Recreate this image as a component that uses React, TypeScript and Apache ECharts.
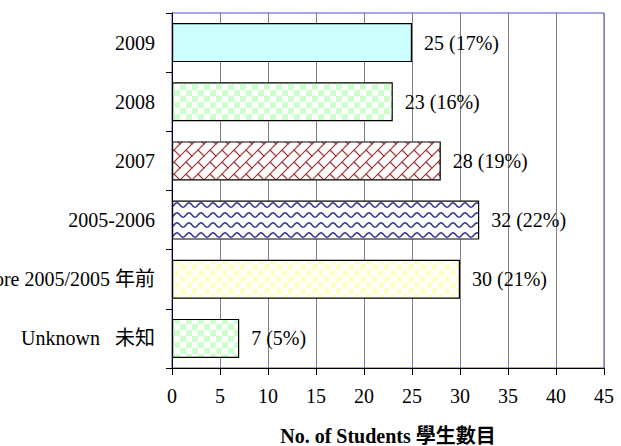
import React, { useEffect, useRef } from "react";
import * as echarts from "echarts";

const categories = ["Unknown   未知", "Before 2005/2005 年前", "2005-2006", "2007", "2008", "2009"];
const counts = [7, 30, 32, 28, 23, 25];
const percents = [5, 21, 22, 19, 16, 17];
const xTicks = { min: 0, max: 45, interval: 5 };
const axisTitle = "No. of Students 學生數目";

const FONT = "'Liberation Serif', 'Times New Roman', 'Noto Sans CJK TC', serif";

function makeTile(w: number, h: number, draw: (ctx: CanvasRenderingContext2D) => void) {
  const c = document.createElement("canvas");
  c.width = w;
  c.height = h;
  const ctx = c.getContext("2d") as CanvasRenderingContext2D;
  draw(ctx);
  return { image: c, repeat: "repeat", imageWidth: w, imageHeight: h } as any;
}

function checker(color: string) {
  return makeTile(12, 12, (ctx) => {
    ctx.fillStyle = "#ffffff";
    ctx.fillRect(0, 0, 12, 12);
    ctx.fillStyle = color;
    ctx.fillRect(0, 0, 6, 6);
    ctx.fillRect(6, 6, 6, 6);
  });
}

function wave() {
  return makeTile(12, 10, (ctx) => {
    ctx.fillStyle = "#ffffff";
    ctx.fillRect(0, 0, 12, 10);
    ctx.strokeStyle = "#333399";
    ctx.lineWidth = 1.5;
    ctx.beginPath();
    for (let i = -1; i <= 13; i++) {
      const y = 5 + 2.2 * Math.sin((2 * Math.PI * i) / 12);
      if (i === -1) ctx.moveTo(i, y);
      else ctx.lineTo(i, y);
    }
    ctx.stroke();
  });
}

function brick() {
  return makeTile(12, 12, (ctx) => {
    ctx.fillStyle = "#ffffff";
    ctx.fillRect(0, 0, 12, 12);
    ctx.strokeStyle = "#a03030";
    ctx.lineWidth = 1.2;
    ctx.beginPath();
    ctx.moveTo(-2, 14);
    ctx.lineTo(14, -2);
    ctx.moveTo(6, 6);
    ctx.lineTo(13, 13);
    ctx.moveTo(-1, -1);
    ctx.lineTo(0.5, 0.5);
    ctx.stroke();
  });
}

export default function App() {
  const ref = useRef<HTMLDivElement>(null);
  useEffect(() => {
    if (!ref.current) return;
    const chart = echarts.init(ref.current, null, { renderer: "svg" });
    const fills = [
      checker("#ccffcc"),
      checker("#ffffcc"),
      wave(),
      brick(),
      checker("#ccffcc"),
      "#ccffff",
    ];
    const data = counts.map((v, i) => ({
      value: v,
      itemStyle: { color: fills[i] },
    }));
    chart.setOption({
      animation: false,
      grid: {
        left: 172,
        top: 13,
        width: 432,
        height: 355,
        containLabel: false,
        outerBoundsMode: "none",
        show: true,
        borderColor: "#4a4acc",
        borderWidth: 1,
        backgroundColor: "transparent",
      },
      xAxis: {
        type: "value",
        min: xTicks.min,
        max: xTicks.max,
        interval: xTicks.interval,
        axisLine: { show: true, lineStyle: { color: "#000000", width: 1 } },
        axisTick: { show: true, length: 7, lineStyle: { color: "#000000" } },
        splitLine: { show: true, lineStyle: { color: "#808080", width: 1 } },
        axisLabel: { color: "#000000", fontFamily: FONT, fontSize: 20, margin: 18 },
        name: axisTitle,
        nameLocation: "middle",
        nameGap: 58,
        nameTextStyle: { color: "#000000", fontFamily: FONT, fontSize: 20, fontWeight: "bold" },
      },
      yAxis: {
        type: "category",
        data: categories,
        axisLine: { show: true, lineStyle: { color: "#000000", width: 1 } },
        axisTick: { show: true, length: 6, alignWithLabel: false, lineStyle: { color: "#000000" } },
        axisLabel: { color: "#000000", fontFamily: FONT, fontSize: 20, margin: 17 },
        splitLine: { show: false },
      },
      series: [
        {
          type: "bar",
          data,
          barWidth: "66%",
          itemStyle: { borderColor: "#000000", borderWidth: 1.2 },
          label: {
            show: true,
            position: "right",
            distance: 12,
            color: "#000000",
            fontFamily: FONT,
            fontSize: 20,
            formatter: (p: any) => `${counts[p.dataIndex]} (${percents[p.dataIndex]}%)`,
          },
        },
      ],
    });
    return () => chart.dispose();
  }, []);
  return (
    <div
      ref={ref}
      style={{ position: "fixed", left: 0, top: 0, width: 621, height: 446, background: "#ffffff" }}
    />
  );
}
